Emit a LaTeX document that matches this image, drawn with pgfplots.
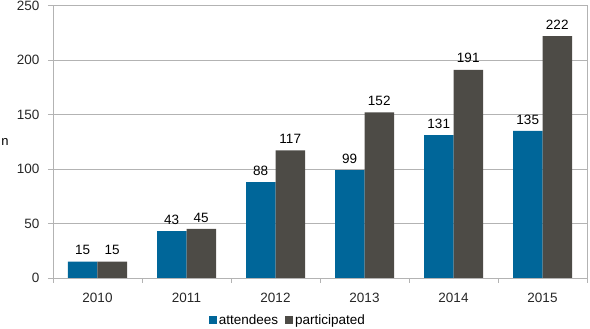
\documentclass[border=0pt]{standalone}
\usepackage{pgfplots}
\pgfplotsset{compat=1.18}
\usepackage{fontspec}
\setmainfont{Liberation Sans}
\definecolor{cblue}{RGB}{0,102,153}
\definecolor{cgray}{RGB}{77,75,70}
\definecolor{gridc}{RGB}{179,179,179}
\begin{document}
\fontsize{13.5}{16}\selectfont
\begin{tikzpicture}
\useasboundingbox (0,0) rectangle (590pt,329pt);
\begin{axis}[
  at={(53pt,51pt)}, anchor=south west,
  scale only axis, width=534pt, height=272.5pt,
  ybar=0pt, bar width=29.5pt,
  xmin=-0.5, xmax=5.5, ymin=0, ymax=250,
  xtick={0,1,2,3,4,5},
  xticklabels={2010,2011,2012,2013,2014,2015},
  minor xtick={-0.5,0.5,1.5,2.5,3.5,4.5,5.5},
  ytick={0,50,100,150,200,250},
  major x tick style={draw=none},
  minor x tick style={draw=gridc, thick},
  y tick style={draw=gridc, thick},
  tick align=outside, major tick length=5pt, minor tick length=5pt,
  xtick pos=bottom, ytick pos=left,
  ymajorgrids, grid style={gridc, thick},
  axis line style={gridc, thick},
  /pgf/number format/assume math mode=true,
  tick label style={font=\fontsize{13.5}{16}\selectfont, text=black!85},
  xticklabel style={yshift=-5pt},
  yticklabel style={xshift=-4pt},
  ylabel={n},
  ylabel style={rotate=-90, at={(axis description cs:-0.09,0.5)}, anchor=center, font=\fontsize{13}{16}\selectfont},
  nodes near coords,
  nodes near coords style={font=\fontsize{13.5}{16}\selectfont, text=black, yshift=2pt},
  legend columns=2,
  legend style={at={(0.44,-0.155)}, anchor=center, draw=none, font=\fontsize{13.5}{16}\selectfont, /tikz/every even column/.append style={column sep=5pt}},
  legend image code/.code={\path[#1, draw=none] (0pt,-3.5pt) rectangle (8pt,4.5pt);},
]
\addplot[fill=cblue, draw=none] coordinates {(0,15) (1,43) (2,88) (3,99) (4,131) (5,135)};
\addplot[fill=cgray, draw=none] coordinates {(0,15) (1,45) (2,117) (3,152) (4,191) (5,222)};
\legend{attendees, participated}
\end{axis}
\end{tikzpicture}
\end{document}
